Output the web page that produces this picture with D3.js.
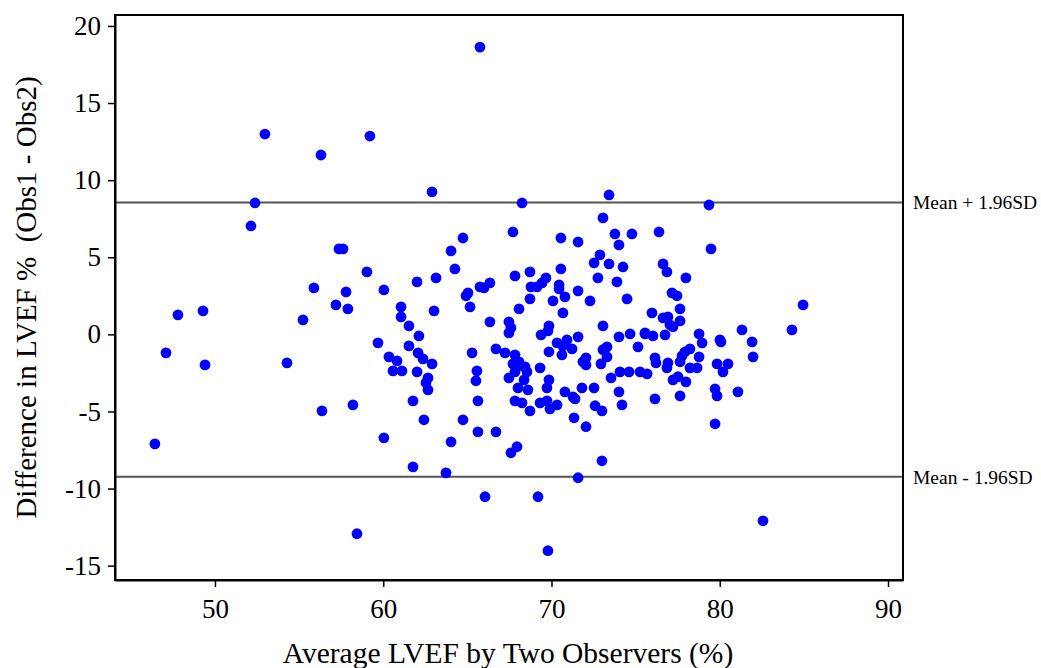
<!DOCTYPE html>
<html><head><meta charset="utf-8">
<script src="https://cdn.jsdelivr.net/npm/d3@7"></script>
<style>body{margin:0;background:#fff}svg{display:block}text{font-family:"Liberation Serif","Times New Roman",serif;white-space:pre}</style>
</head><body>
<svg id="c" width="1041" height="668"></svg>
<script>
// Average LVEF (%) of the two observers
const avgLVEF = [65.75,52.97,56.30,59.21,62.90,52.38,68.25,73.42,79.36,73.06,52.14,
55.88,47.80,49.29,55.23,47.09,49.41,54.28,46.43,
57.37,57.61,57.79,59.03,57.19,57.90,60.04,61.06,61.06,61.53,62.12,59.69,62.01,63.14,64.03,64.74,64.26,64.92,65.04,65.16,63.02,65.75,
67.71,70.56,71.58,73.77,74.78,74.01,72.88,72.53,73.42,74.25,70.56,68.72,67.83,72.76,73.89,69.67,69.44,69.14,68.78,66.34,65.99,70.45,70.45,70.80,71.58,70.09,72.29,68.72,74.49,68.07,70.68,66.34,67.47,67.59,67.47,69.85,69.79,73.06,69.38,70.33,70.92,71.58,74.01,74.67,75.56,
76.39,79.48,76.63,76.86,77.99,77.16,77.46,75.97,77.64,84.95,76.63,76.92,77.04,77.22,77.64,75.56,76.03,76.75,78.77,81.32,84.29,80.01,81.92,
61.53,60.34,60.82,60.58,61.11,62.07,62.36,62.90,62.01,62.66,62.54,62.66,65.28,65.57,65.51,61.77,65.63,56.36,58.20,62.42,64.74,65.63,60.04,64.03,61.77,63.73,
69.85,70.62,71.22,70.68,73.30,73.06,73.30,75.14,72.05,71.87,72.05,72.94,66.70,67.24,67.83,67.71,67.95,68.07,68.43,68.54,67.83,68.37,67.47,69.32,69.85,69.73,68.01,68.60,70.80,71.28,71.40,71.81,72.53,73.54,74.07,74.61,75.26,75.68,74.01,74.19,67.83,68.25,69.32,69.73,69.91,70.33,68.72,72.59,73.00,71.34,72.05,66.70,67.95,67.59,73.00,71.58,
78.95,80.07,81.98,78.23,77.93,77.76,77.64,78.77,76.15,76.21,76.92,76.86,78.23,78.65,79.84,80.49,80.19,77.22,77.52,77.99,79.72,79.84,81.08,76.15,77.64,79.72,
66.05,69.20,58.44,69.79,82.57];
// Difference in LVEF (Obs1 - Obs2)
const diffLVEF = [18.63,12.99,11.63,12.86,9.24,8.52,8.52,9.04,8.39,7.55,7.03,
3.01,1.26,1.52,0.94,-1.20,-1.98,-1.85,-7.10,
5.54,5.54,2.75,4.05,1.91,1.65,2.88,1.78,1.13,0.55,-0.10,-0.55,3.40,3.66,5.41,6.25,4.24,2.50,2.69,1.78,1.52,3.08,
6.64,6.25,5.99,6.51,6.51,5.80,5.15,4.63,4.57,4.37,4.24,4.05,3.79,3.66,3.40,3.66,3.34,3.08,3.08,3.34,3.01,3.21,2.95,2.43,2.82,2.17,2.17,2.30,2.30,1.65,1.39,0.81,0.81,0.42,0.10,0.55,0.23,0.55,-0.03,-0.55,-0.36,-0.16,-0.16,0.03,0.03,
6.64,5.54,4.57,4.05,3.66,2.69,2.50,1.39,1.65,1.91,1.07,1.13,0.62,0.49,0.87,0.10,-0.10,-0.03,0.03,0.29,0.29,-0.36,-0.49,
-0.75,-1.46,-1.72,-2.37,-2.37,-1.20,-1.59,-1.91,-2.43,-2.82,-3.14,-3.60,-1.20,-2.37,-3.01,-4.31,-4.31,-4.96,-4.57,-5.54,-5.54,-6.32,-6.71,-6.97,-8.59,-8.98,
-1.13,-1.33,-0.94,-0.75,-0.81,-1.00,-1.46,-0.81,-1.52,-1.78,-1.98,-1.91,-0.94,-1.20,-1.33,-1.91,-2.11,-1.78,-2.11,-2.43,-2.43,-2.95,-2.82,-2.17,-2.95,-3.47,-3.47,-3.60,-3.73,-4.05,-4.18,-3.47,-3.47,-2.82,-2.43,-2.43,-2.43,-2.56,-3.73,-4.57,-4.31,-4.44,-4.44,-4.31,-4.83,-4.57,-4.96,-4.63,-4.96,-5.41,-5.99,-6.32,-7.29,-7.68,-8.20,-9.30,
-0.55,-0.49,-1.46,-0.94,-1.13,-1.39,-1.78,-1.46,-1.52,-1.85,-1.85,-2.17,-2.17,-2.17,-1.91,-1.91,-2.43,-2.95,-2.75,-3.08,-3.53,-3.99,-3.73,-4.18,-3.99,-5.80,
-10.53,-10.53,-12.93,-14.03,-12.09];
const xTicks = [50,60,70,80,90];
const yTicks = [20,15,10,5,0,-5,-10,-15];
const limitValues = [8.55,-9.24];
const limitLabels = ["Mean + 1.96SD","Mean - 1.96SD"];
const xTitle = "Average LVEF by Two Observers (%)";
const yTitle = "Difference in LVEF %  (Obs1 - Obs2)";

const svg = d3.select("#c");
const m = {l:115,t:15,r:138,b:88};
const W = 1041-m.l-m.r, H = 668-m.t-m.b;
const x = d3.scaleLinear().domain([44.06,90.89]).range([0,W]);
const y = d3.scaleLinear().domain([-15.93,20.71]).range([H,0]);
const g = svg.append("g").attr("transform",`translate(${m.l},${m.t})`);
const fmt = d => String(d);

// limit lines
limitValues.forEach((v,i)=>{
  g.append("line").attr("x1",0).attr("x2",W).attr("y1",y(v)).attr("y2",y(v))
   .attr("stroke","#555").attr("stroke-width",2);
  g.append("text").attr("x",W+10).attr("y",y(v)).attr("dy","0.35em")
   .attr("font-size",19.5).attr("fill","#000").text(limitLabels[i]);
});

// points
g.selectAll("circle").data(avgLVEF.map((a,i)=>[a,diffLVEF[i]])).join("circle")
 .attr("cx",d=>x(d[0])).attr("cy",d=>y(d[1])).attr("r",5.4).attr("fill","#0000ff");

// frame
g.append("rect").attr("x",0).attr("y",0).attr("width",W).attr("height",H)
 .attr("fill","none").attr("stroke","#000").attr("stroke-width",2);

// axes
const xa = g.append("g").attr("transform",`translate(0,${H})`)
 .call(d3.axisBottom(x).tickValues(xTicks).tickFormat(fmt).tickSize(7).tickSizeOuter(0).tickPadding(12));
const ya = g.append("g").call(d3.axisLeft(y).tickValues(yTicks).tickFormat(fmt).tickSize(7).tickSizeOuter(0).tickPadding(7));
[xa,ya].forEach(a=>{
  a.select(".domain").attr("stroke","#000").attr("stroke-width",2);
  a.selectAll(".tick line").attr("stroke","#000").attr("stroke-width",1.5);
  a.selectAll(".tick text").attr("font-size",27).attr("fill","#000")
   .attr("font-family","'Liberation Serif','Times New Roman',serif");
});

svg.append("text").attr("x",m.l+W/2-1).attr("y",663).attr("text-anchor","middle")
 .attr("font-size",29.5).text(xTitle);
svg.append("text").attr("transform",`translate(36,${m.t+H/2}) rotate(-90)`)
 .attr("text-anchor","middle").attr("font-size",29).text(yTitle);
</script>
</body></html>
